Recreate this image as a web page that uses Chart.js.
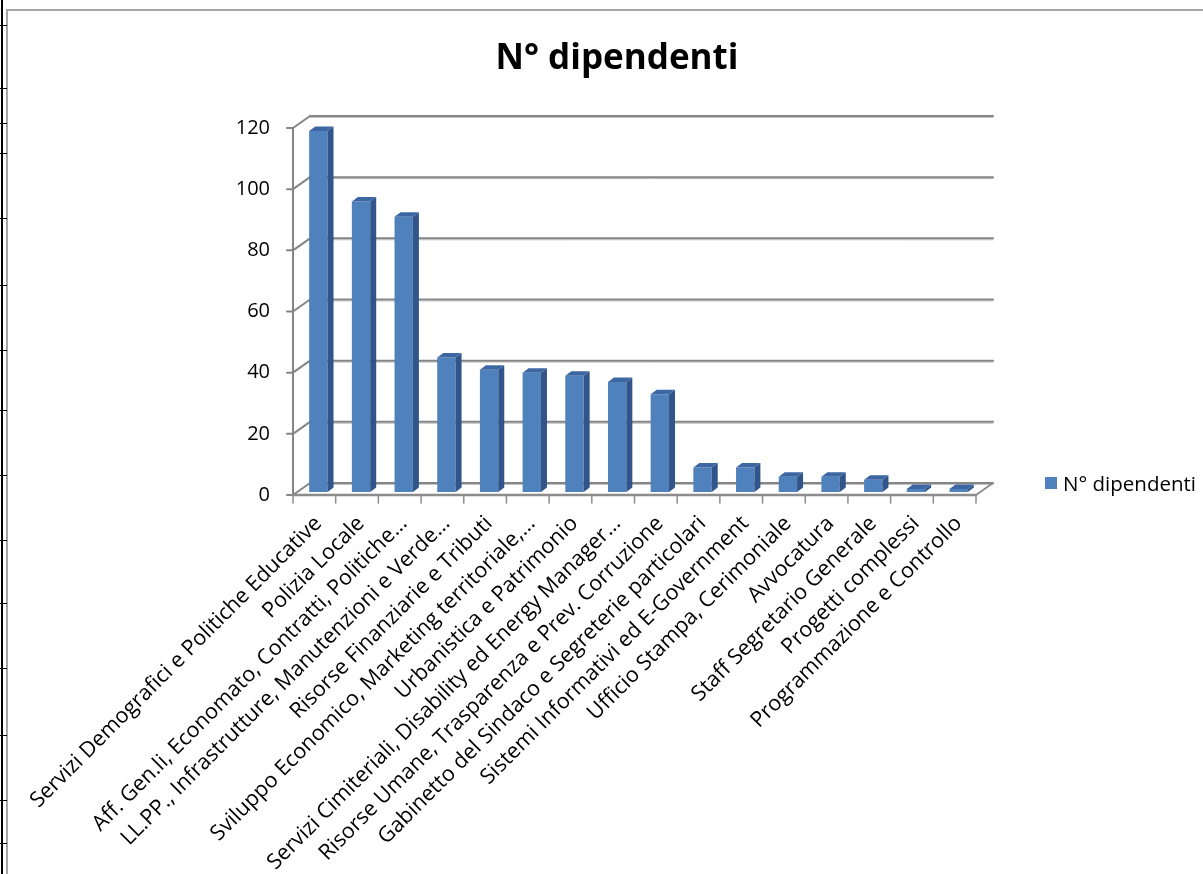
<!DOCTYPE html>
<html><head><meta charset="utf-8">
<script src="https://cdn.jsdelivr.net/npm/chart.js@4"></script>
<style>
html,body{margin:0;padding:0;background:#fff;overflow:hidden}
#wrap{position:relative;width:1203px;height:874px;overflow:hidden}
canvas{position:absolute;left:0;top:0}
#frame{position:absolute;left:6px;top:9px;width:1300px;height:900px;border-left:2px solid #a6a6a6;border-top:2px solid #a6a6a6;pointer-events:none}
#rowline{position:absolute;left:1px;top:0;width:2px;height:874px;background:#000}
.rt{position:absolute;left:0;width:7px;height:1px;background:#000}
#legend{position:absolute;left:1045px;top:469px;font:20.5px 'Open Sans';display:flex;align-items:center;color:#000;white-space:nowrap}
#legend .box{width:12px;height:12px;background:#4f81bd;margin-right:6px}
</style></head>
<body><div id="wrap">
<canvas id="c" width="1203" height="874"></canvas>
<div id="rowline"></div>
<div id="frame"></div>
<div id="legend"><span class="box"></span><span>N° dipendenti</span></div>
</div>
<script>
const categories = [
  "Servizi Demografici e Politiche Educative",
  "Polizia Locale",
  "Aff. Gen.li, Economato, Contratti, Politiche…",
  "LL.PP., Infrastrutture, Manutenzioni e Verde…",
  "Risorse Finanziarie e Tributi",
  "Sviluppo Economico, Marketing territoriale,…",
  "Urbanistica e Patrimonio",
  "Servizi Cimiteriali, Disability ed Energy Manager…",
  "Risorse Umane, Trasparenza e Prev. Corruzione",
  "Gabinetto del Sindaco e Segreterie particolari",
  "Sistemi Informativi ed E-Government",
  "Ufficio Stampa, Cerimoniale",
  "Avvocatura",
  "Staff Segretario Generale",
  "Progetti complessi",
  "Programmazione e Controllo"
];
const values = [118, 95, 90, 44, 40, 39, 38, 36, 32, 8, 8, 5, 5, 4, 1, 1];
const seriesName = "N° dipendenti";
const yMin = 0, yMax = 120, yStep = 20;
const rowTicks = [25, 88, 123, 153, 218, 285, 350, 410, 475, 540, 603, 668, 735, 800, 843];

const wrap = document.getElementById('wrap');
rowTicks.forEach(t => { const d = document.createElement('div'); d.className = 'rt'; d.style.top = t + 'px'; wrap.appendChild(d); });

Chart.defaults.font.family = 'Open Sans';
Chart.defaults.color = '#000';

function line(ctx, x1, y1, x2, y2) { ctx.beginPath(); ctx.moveTo(x1, y1); ctx.lineTo(x2, y2); ctx.stroke(); }

const BX = 13, BY = -9, FX = -4, FY = 3;
const wallPlugin = {
  id: 'wall',
  beforeDatasetsDraw(chart) {
    const { ctx, chartArea: a, scales: { y } } = chart;
    ctx.save();
    ctx.lineCap = 'round';
    y.ticks.forEach(t => {
      const py = y.getPixelForValue(t.value);
      ctx.strokeStyle = '#c4c4c4'; ctx.lineWidth = 1;
      line(ctx, a.left + BX, py + BY + 1.5, a.right + BX, py + BY + 1.5);
      ctx.strokeStyle = '#858585'; ctx.lineWidth = 2;
      line(ctx, a.left + BX, py + BY, a.right + BX, py + BY);
      line(ctx, a.left + FX, py + FY, a.left + BX, py + BY);
      line(ctx, a.left + FX - 6, py + FY, a.left + FX, py + FY);
      ctx.fillStyle = '#000';
      ctx.font = '20px "Open Sans"';
      ctx.textAlign = 'right';
      ctx.textBaseline = 'middle';
      ctx.fillText(String(t.value), a.left - 27, py + FY);
    });
    ctx.strokeStyle = '#858585'; ctx.lineWidth = 2;
    const top = y.getPixelForValue(yMax);
    line(ctx, a.left + FX, top + FY, a.left + FX, a.bottom + FY);
    ctx.strokeStyle = '#8c8c8c'; ctx.lineWidth = 2.5;
    line(ctx, a.left + FX, a.bottom + FY, a.right + FX, a.bottom + FY);
    ctx.lineWidth = 2;
    line(ctx, a.right + FX, a.bottom + FY, a.right + BX, a.bottom + BY);
    ctx.lineWidth = 1.5;
    const n = categories.length, step = a.width / n;
    for (let i = 0; i <= n; i++) {
      const x = a.left + FX + i * step;
      line(ctx, x, a.bottom + FY, x, a.bottom + FY + 8);
    }
    ctx.restore();
  },
  afterDatasetsDraw(chart) {
    const { ctx } = chart;
    const meta = chart.getDatasetMeta(0);
    ctx.save();
    meta.data.forEach(bar => {
      const l = bar.x - bar.width / 2, r = bar.x + bar.width / 2;
      const t = bar.y, b = bar.base;
      const dx = 6, dy = -4.5;
      ctx.fillStyle = '#31548a';
      ctx.beginPath(); ctx.moveTo(r, t); ctx.lineTo(r + dx, t + dy); ctx.lineTo(r + dx, b + dy); ctx.lineTo(r, b); ctx.closePath(); ctx.fill();
      ctx.fillStyle = '#3d67a2';
      ctx.beginPath(); ctx.moveTo(l, t); ctx.lineTo(l + dx, t + dy); ctx.lineTo(r + dx, t + dy); ctx.lineTo(r, t); ctx.closePath(); ctx.fill();
    });
    ctx.restore();
  }
};

new Chart(document.getElementById('c'), {
  type: 'bar',
  data: {
    labels: categories,
    datasets: [{
      label: seriesName,
      data: values,
      backgroundColor: '#4f81bd',
      borderWidth: 0,
      barPercentage: 0.43,
      categoryPercentage: 1.0
    }]
  },
  options: {
    responsive: false,
    animation: false,
    layout: { padding: { left: 254, right: 223, top: 0, bottom: 0 } },
    plugins: {
      legend: { display: false },
      tooltip: { enabled: false },
      title: {
        display: true,
        text: 'N° dipendenti',
        font: { size: 35, weight: 'bold', family: 'Open Sans' },
        color: '#000',
        padding: { top: 38, bottom: 45 }
      }
    },
    scales: {
      x: {
        grid: { display: false, drawTicks: false },
        border: { display: false },
        ticks: { autoSkip: false, maxRotation: 45, minRotation: 45, padding: 19, font: { size: 21.5 }, color: '#000' },
        afterFit(s) { s.height = 382; }
      },
      y: {
        min: yMin, max: yMax,
        grid: { display: false, drawTicks: false },
        border: { display: false },
        ticks: { stepSize: yStep, display: false },
        afterFit(s) { s.width = 43; }
      }
    }
  },
  plugins: [wallPlugin]
});
</script>
</body></html>
